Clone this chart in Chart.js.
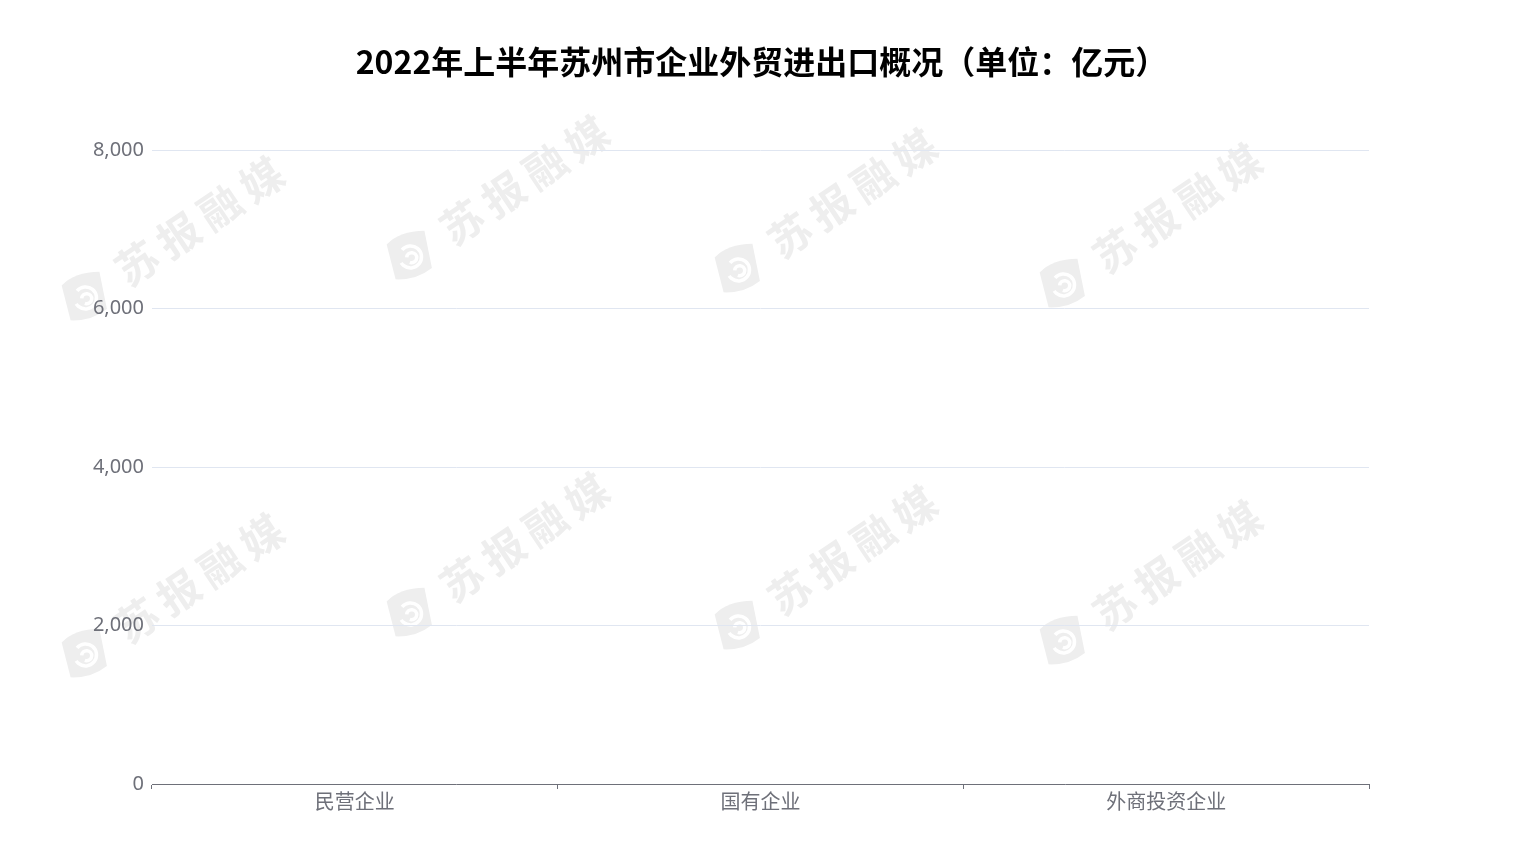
<!DOCTYPE html>
<html>
<head>
<meta charset="utf-8">
<script src="https://cdn.jsdelivr.net/npm/chart.js@4"></script>
<style>
html,body{margin:0;padding:0;background:#fff;}
#wrap{width:1521px;height:854px;position:relative;}
</style>
</head>
<body>
<div id="wrap"><canvas id="chartCanvas" width="1521" height="854"></canvas></div>
<script>

// chart data
const titleText = "2022年上半年苏州市企业外贸进出口概况（单位：亿元）";
const categories = ["民营企业", "国有企业", "外商投资企业"];
// no bars are visible in the reference picture
const seriesValues = [null, null, null];
const yTicks = [0, 2000, 4000, 6000, 8000];

// watermark spots (logo centres)
const marks = [
[85,296],[410,255],[738,268],[1063,283],
[85,653],[410,612],[738,625],[1063,640]
];

function drawLogo(ctx,x,y){
ctx.save();
ctx.translate(x,y);
ctx.rotate(-0.25);
ctx.fillStyle="#eeeeee";
ctx.beginPath();
ctx.moveTo(-20,-16);
ctx.quadraticCurveTo(-4,-26,20,-20);
ctx.lineTo(18,18);
ctx.quadraticCurveTo(0,26,-20,20);
ctx.closePath();
ctx.fill();
ctx.strokeStyle="#fff";
ctx.lineWidth=3.5;
ctx.beginPath();
ctx.arc(0,2,11,Math.PI*1.3,Math.PI*2.9);
ctx.stroke();
ctx.beginPath();
ctx.arc(1,3,5,Math.PI*1.1,Math.PI*2.7);
ctx.stroke();
ctx.restore();
}

const watermark = {
id:"watermark",
beforeDraw(c){
const ctx=c.ctx;
ctx.save();
marks.forEach(m=>{
drawLogo(ctx,m[0],m[1]);
ctx.save();
ctx.translate(m[0]+52,m[1]-33);
ctx.rotate(-0.59);
ctx.fillStyle="#eeeeee";
ctx.font="bold 42px 'Noto Sans CJK SC'";
ctx.textBaseline="middle";
ctx.textAlign="center";
"苏报融媒".split("").forEach((ch,i)=>{
ctx.fillText(ch,i*50,0);
});
ctx.restore();
});
ctx.restore();
}
};

// title centred on the whole canvas
const titlePlugin = {
id:"pageTitle",
afterDraw(c){
const ctx=c.ctx;
ctx.save();
ctx.fillStyle="#000";
ctx.font="bold 32px 'Noto Sans CJK SC'";
ctx.textAlign="center";
ctx.textBaseline="middle";
ctx.fillText(titleText,c.width/2+1,62);
ctx.restore();
}
};

const ctx = document.getElementById("chartCanvas");

new Chart(ctx,{
type:"bar",
data:{
labels:categories,
datasets:[{
label:"进出口",
data:seriesValues,
backgroundColor:"#5470c6"
}]
},
options:{
responsive:false,
animation:false,
layout:{padding:{left:0,right:152,top:150,bottom:0}},
plugins:{
legend:{display:false},
tooltip:{enabled:false},
title:{display:false}
},
scales:{
x:{
afterFit(s){s.height=70;},
grid:{drawOnChartArea:false,drawTicks:true,tickLength:5,color:"#6e7079",offset:true},
border:{color:"#6e7079"},
ticks:{color:"#6e7079",font:{family:"'Noto Sans CJK SC'",size:20},padding:0}
},
y:{
min:0,
max:8000,
afterFit(s){s.width=152;},
afterBuildTicks(axis){axis.ticks=yTicks.map(v=>({value:v}));},
grid:{color:"#e0e6f1",drawTicks:false},
border:{display:false},
ticks:{
color:"#6e7079",
font:{family:"'Noto Sans'",size:20},
padding:8,
callback:v=>v.toLocaleString("en-US")
}
}
}
},
plugins:[watermark,titlePlugin]
});

</script>
</body>
</html>
